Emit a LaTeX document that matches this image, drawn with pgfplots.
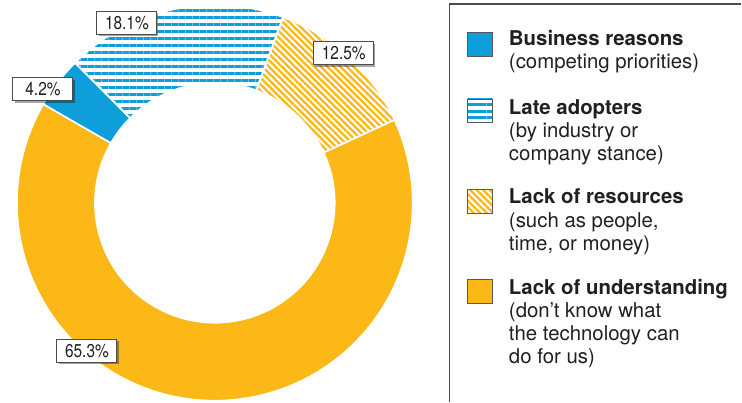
\documentclass[border=0pt]{standalone}
\usepackage{fontspec}
\setmainfont{TeX Gyre Heros}
\newfontfamily\labfont[FakeStretch=0.83]{TeX Gyre Heros}
\usepackage{pgfplots}
\pgfplotsset{compat=1.18}
\usepackage{pgfplotstable}
\usetikzlibrary{patterns.meta,shadows}
\definecolor{cblue}{RGB}{14,158,218}
\definecolor{cyellow}{RGB}{252,184,22}
\definecolor{ctext}{RGB}{35,31,32}

\pgfplotstableread{
key pct
business 4.2
late 18.1
resources 12.5
understanding 65.3
}\donutdata

\newcommand\slice[3]{%
  \path[overlay,#1] ([shift={(#2:99pt)}]c) arc[start angle=#2, end angle=#3, radius=99pt]
    -- ([shift={(#3:60pt)}]c) arc[start angle=#3, end angle=#2, radius=60pt] -- cycle;}
\newcommand\legline[2]{\node[anchor=base west, inner sep=0pt, text=ctext,
    font={\fontsize{10.2}{11.7}\selectfont}] at (axis cs:509,#1) {#2};}

\begin{document}%
\begin{tikzpicture}
\pgfplotstablegetelem{0}{pct}\of\donutdata \let\pB\pgfplotsretval
\pgfplotstablegetelem{1}{pct}\of\donutdata \let\pL\pgfplotsretval
\pgfplotstablegetelem{2}{pct}\of\donutdata \let\pR\pgfplotsretval
\pgfplotstablegetelem{3}{pct}\of\donutdata \let\pU\pgfplotsretval
\pgfmathsetmacro\aR{24.8}
\pgfmathsetmacro\aL{\aR+3.6*\pR}
\pgfmathsetmacro\aB{\aL+3.6*\pL}
\pgfmathsetmacro\aU{\aB+3.6*\pB}
\pgfmathsetmacro\aE{\aR+360}
\begin{axis}[
  x=0.5pt, y=0.5pt, xmin=0, xmax=742, ymin=0, ymax=402,
  hide axis, clip=false,
]
\path (axis cs:0,0) rectangle (axis cs:742,402);
\coordinate (c) at (axis cs:215,199);
\slice{fill=cyellow, draw=white, line width=0.8pt}{\aU}{\aE}
\slice{fill=cblue, draw=white, line width=0.8pt}{\aB}{\aU}
\slice{pattern={Lines[angle=0,distance=3.5pt,line width=1.5pt]}, pattern color=cblue}{\aL}{\aB}
\slice{pattern={Lines[angle=-45,distance=2.3pt,line width=1.1pt]}, pattern color=cyellow}{\aR}{\aL}
\slice{draw=white, line width=0.8pt}{\aL}{\aB}
\slice{draw=white, line width=0.8pt}{\aR}{\aL}

\tikzset{lab/.style={draw=black!70, line width=0.5pt, fill=white, minimum width=30pt,
  minimum height=11.5pt, inner sep=0pt, text=ctext,
  font={\labfont\fontsize{9.3}{10}\selectfont},
  drop shadow={shadow xshift=0.8pt, shadow yshift=-0.8pt, opacity=0.35, fill=black}}}
\node[lab] at (axis cs:127,379) {18.1\%};
\node[lab] at (axis cs:344,348.5) {12.5\%};
\node[lab] at (axis cs:43,312.5) {4.2\%};
\node[lab] at (axis cs:87,50.5) {65.3\%};

% legend
\draw[black!70, line width=0.6pt] (axis cs:450,0) -- (axis cs:450,398) -- (axis cs:742,398);
\tikzset{legsq/.style={draw=black!65, line width=0.4pt}}
\draw[legsq, fill=cblue] (axis cs:467.5,346) rectangle (axis cs:493,369.7);
\draw[legsq, pattern={Lines[angle=0,distance=3.1pt,line width=1.5pt]}, pattern color=cblue] (axis cs:467.5,280) rectangle (axis cs:493,303);
\draw[legsq, pattern={Lines[angle=-45,distance=2.3pt,line width=1.1pt]}, pattern color=cyellow] (axis cs:467.5,188.7) rectangle (axis cs:493,212.7);
\draw[legsq, fill=cyellow] (axis cs:467.5,98) rectangle (axis cs:493,122);

\legline{356.3}{\textbf{Business reasons}}
\legline{333}{(competing priorities)}
\legline{287.7}{\textbf{Late adopters}}
\legline{264.3}{(by industry or}
\legline{241}{company stance)}
\legline{198}{\textbf{Lack of resources}}
\legline{174.7}{(such as people,}
\legline{151.3}{time, or money)}
\legline{107.7}{\textbf{Lack of understanding}}
\legline{84.3}{(don’t know what}
\legline{61}{the technology can}
\legline{38}{do for us)}
\end{axis}
\end{tikzpicture}%
\end{document}
